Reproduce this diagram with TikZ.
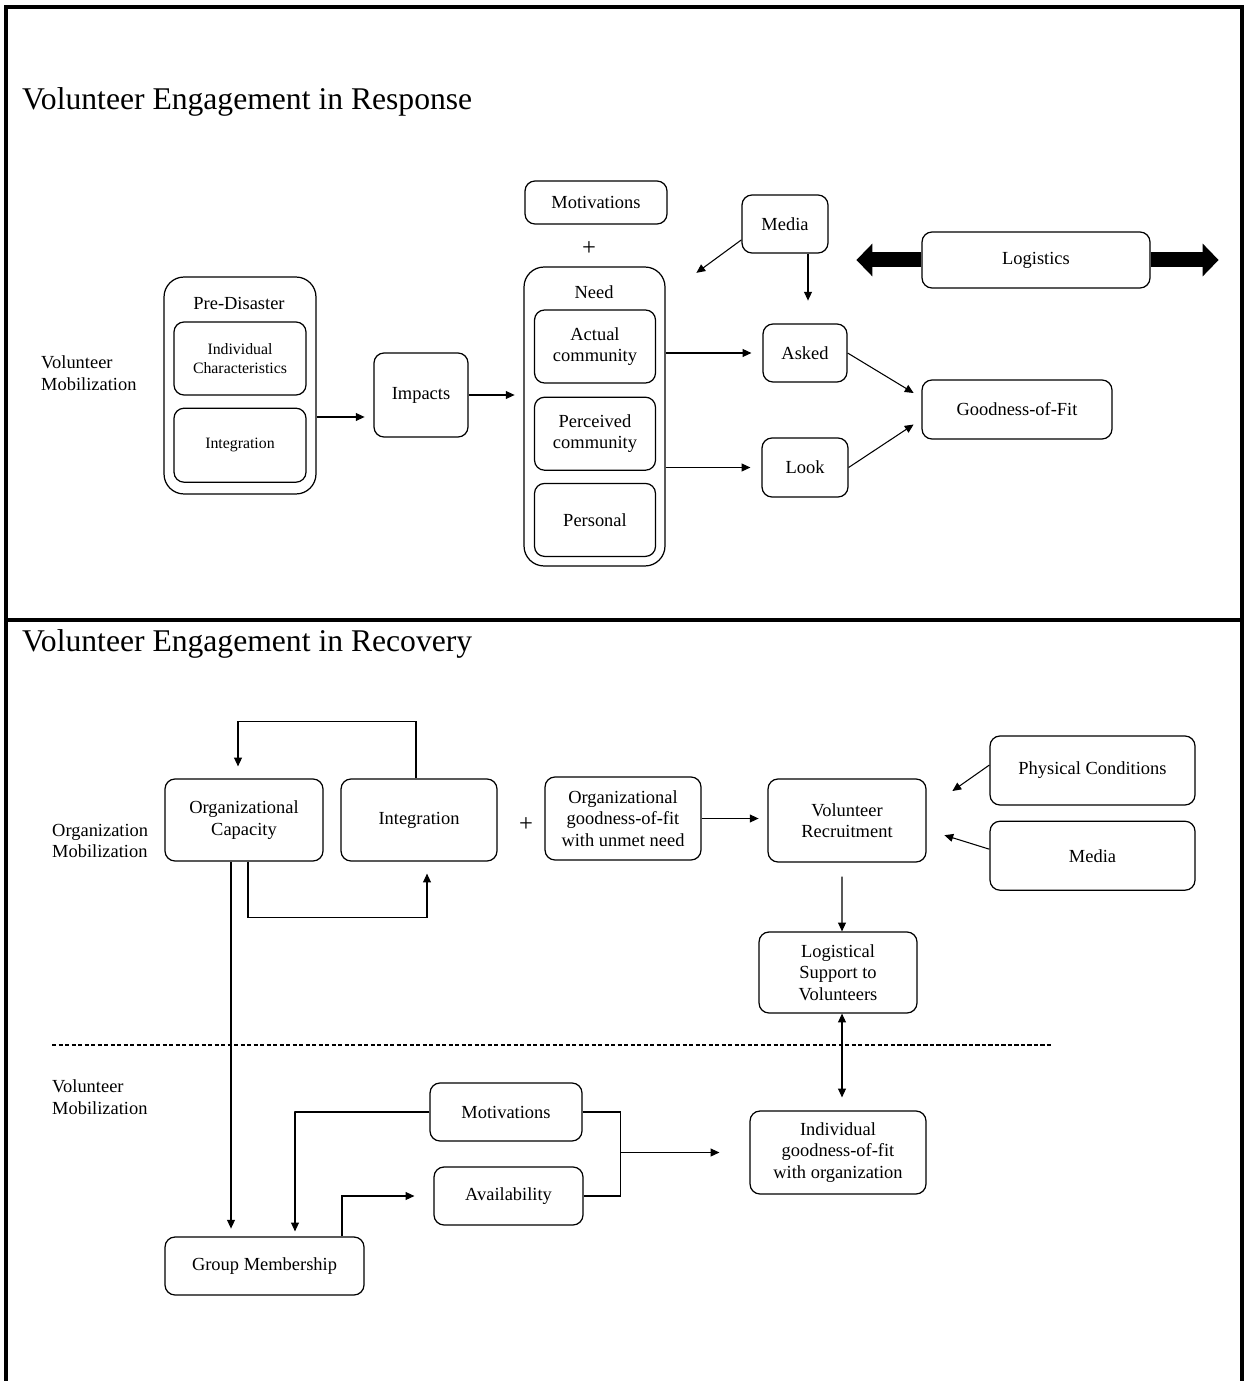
\documentclass[tikz,border=0pt]{standalone}
\usepackage{fontspec}
\setmainfont{Liberation Serif}
\usetikzlibrary{positioning, arrows.meta}

\begin{document}
\begin{tikzpicture}[x=0.02cm, y=-0.02cm, node distance=0.25cm and 1cm,
  every node/.style={font=\fontsize{10.5}{12.3}\selectfont},
  box/.style={draw, line width=0.7pt, rounded corners=0.2cm, align=center, inner sep=0pt},
  outer/.style={draw, line width=0.7pt, rounded corners=0.4cm, inner sep=0pt},
  small/.style={font=\fontsize{9}{10.5}\selectfont},
  sidelabel/.style={align=left, anchor=west},
  heading/.style={anchor=west, font=\fontsize{18}{21}\selectfont},
  plus/.style={font=\fontsize{14}{16}\selectfont},
  arrow/.style={-{Triangle[length=5pt,width=4.5pt]}, line width=0.6pt},
  dblarrow/.style={{Triangle[length=5pt,width=4.5pt]}-{Triangle[length=5pt,width=4.5pt]}, line width=0.6pt},
  link/.style={line width=0.6pt},
  fat/.style={-{Triangle[length=0.32cm,width=0.64cm]}, line width=0.3cm},
  frame/.style={line width=2pt}]

\useasboundingbox (0,0) rectangle (1244,1381);

% table frame
\draw[frame] (6,1390) -- (6,7) -- (1242,7) -- (1242,1390);
\draw[frame] (6,620) -- (1242,620);

\node[heading] (head1) at (16,102) {Volunteer Engagement in Response};
\node[heading] (head2) at (16,644) {Volunteer Engagement in Recovery};

% --- Response ---
\node[sidelabel] (vm1) at (35,373) {Volunteer\\Mobilization};

\node[outer, minimum width=3.04cm, minimum height=4.34cm] (pre) at (240,385.5) {};
\node (pretitle) at (239,303) {Pre-Disaster};
\node[box, small, minimum width=2.64cm, minimum height=1.46cm] (indiv) at (240,358.5) {Individual\\Characteristics};
\node[box, small, minimum width=2.64cm, minimum height=1.48cm, below=0.24cm of indiv] (integ1) {Integration};

\node[box, minimum width=1.88cm, minimum height=1.68cm] (impacts) at (421,395) {Impacts};

\node[box, minimum width=2.84cm, minimum height=0.86cm] (motiv1) at (596,202.5) {Motivations};
\node[plus] (plus1) at (589,249) {+};
\node[outer, minimum width=2.82cm, minimum height=5.98cm] (need) at (594.5,416.5) {};
\node (needtitle) at (594,292) {Need};
\node[box, minimum width=2.42cm, minimum height=1.46cm] (actual) at (595,346.5) {Actual\\community};
\node[box, minimum width=2.42cm, minimum height=1.46cm, below=0.26cm of actual] (perceived) {Perceived\\community};
\node[box, minimum width=2.42cm, minimum height=1.46cm, below=0.24cm of perceived] (personal) {Personal};

\node[box, minimum width=1.72cm, minimum height=1.16cm] (media1) at (785,224) {Media};
\node[box, minimum width=1.68cm, minimum height=1.16cm] (asked) at (805,353) {Asked};
\node[box, minimum width=1.72cm, minimum height=1.18cm] (look) at (805,467.5) {Look};
\node[box, minimum width=4.56cm, minimum height=1.12cm] (logi) at (1036,260) {Logistics};
\node[box, minimum width=3.8cm, minimum height=1.18cm] (gof) at (1017,409.5) {Goodness-of-Fit};

\draw[arrow] ([yshift=-0.63cm]pre.east) -- ++(48,0);
\draw[arrow] (impacts.east) -- ++(46,0);
\draw[arrow] (need.east |- asked.west) -- ([xshift=-0.22cm]asked.west);
\draw[arrow] (need.east |- look.west) -- ([xshift=-0.22cm]look.west);
\draw[arrow] (media1.200) -- ++(-45,33);
\draw[arrow] ([xshift=0.46cm]media1.south) -- ++(0,47);
\draw[arrow] (asked.east) -- ++(66,40);
\draw[arrow] (look.east) -- ++(65,-43);
\draw[fat] (logi.west) -- ++(-65,0);
\draw[fat] (logi.east) -- ++(68,0);

% --- Recovery ---
\node[sidelabel] (om) at (46,841) {Organization\\Mobilization};
\node[sidelabel] (vm2) at (46,1097) {Volunteer\\Mobilization};

\node[box, minimum width=3.16cm, minimum height=1.64cm] (cap) at (244,820) {Organizational\\Capacity};
\node[box, minimum width=3.12cm, minimum height=1.64cm] (integ2) at (419,820) {Integration};
\node[plus] (plus2) at (526,825) {+};
\node[box, minimum width=3.12cm, minimum height=1.66cm] (orgfit) at (623,818.5) {Organizational\\goodness-of-fit\\with unmet need};
\node[box, minimum width=3.16cm, minimum height=1.66cm] (recruit) at (847,820.5) {Volunteer\\Recruitment};
\node[box, minimum width=4.1cm, minimum height=1.38cm] (phys) at (1092.5,770.5) {Physical Conditions};
\node[box, minimum width=4.1cm, minimum height=1.38cm, below=0.3cm of phys] (media2) {Media};
\node[box, minimum width=3.16cm, minimum height=1.62cm] (logsup) at (838,972.5) {Logistical\\Support to\\Volunteers};

\draw[link, dashed, dash pattern=on 2.5pt off 1.2pt] (52,1045) -- (1052,1045);

\node[box, minimum width=3.52cm, minimum height=1.66cm] (indfit) at (838,1152.5) {Individual\\goodness-of-fit\\with organization};
\node[box, minimum width=3.04cm, minimum height=1.16cm] (motiv2) at (506,1112) {Motivations};
\node[box, minimum width=2.98cm, minimum height=1.16cm] (avail) at (508.5,1196) {Availability};
\node[box, minimum width=3.98cm, minimum height=1.16cm] (group) at (264.5,1266) {Group Membership};

\draw[arrow] ([xshift=-0.06cm]integ2.north) -- ++(0,-57) -| ([xshift=-0.12cm, yshift=0.24cm]cap.north);
\draw[arrow] ([xshift=0.08cm]cap.south) -- ++(0,56) -| ([xshift=0.16cm, yshift=-0.24cm]integ2.south);
\draw[arrow] ([xshift=-0.26cm]cap.south) -- ++(0,367);
\draw[arrow] (orgfit.east) -- ++(57,0);
\draw[arrow] ([yshift=0.11cm]phys.west) -- ++(-37,26);
\draw[arrow] ([yshift=0.13cm]media2.west) -- ++(-45,-14);
\draw[arrow] ([xshift=-0.1cm, yshift=-0.28cm]recruit.south) -- ([xshift=0.08cm]logsup.north);
\draw[dblarrow] ([xshift=0.08cm]logsup.south) -- ([xshift=0.08cm, yshift=0.26cm]indfit.north);

\draw[arrow] (motiv2.west) -- ++(-135,0) -| ([xshift=0.61cm, yshift=0.1cm]group.north);
\draw[arrow] ([xshift=1.55cm]group.north) |- ([xshift=-0.38cm]avail.west);
\draw[link] (motiv2.east) -- ++(38,0) coordinate (join) |- (avail.east);
\draw[arrow] (join |- indfit.west) -- ([xshift=-0.6cm]indfit.west);
\end{tikzpicture}
\end{document}
